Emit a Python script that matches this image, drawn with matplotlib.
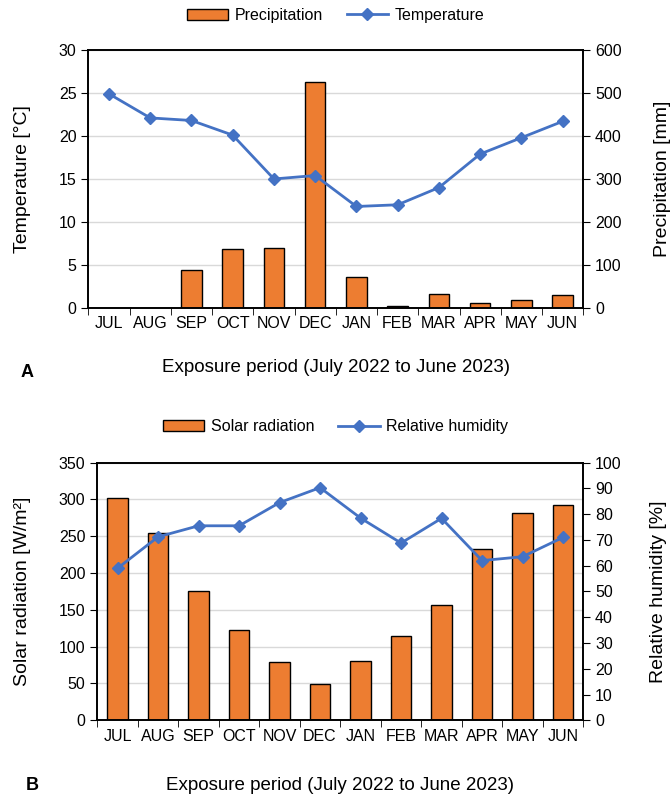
import matplotlib.pyplot as plt
import numpy as np

plt.rcParams['font.family'] = ['Liberation Sans', 'DejaVu Sans']
plt.rcParams['font.size'] = 11.5

months = ['JUL', 'AUG', 'SEP', 'OCT', 'NOV', 'DEC', 'JAN', 'FEB', 'MAR', 'APR', 'MAY', 'JUN']
precipitation = [0, 0, 88, 137, 139, 526, 73, 4, 32, 11, 18, 31]
temperature = [24.9, 22.1, 21.8, 20.1, 15.0, 15.4, 11.8, 12.0, 14.0, 17.9, 19.8, 21.7]
solar = [302, 254, 175, 122, 79, 49, 80, 114, 156, 233, 282, 292]
humidity = [59.0, 71.2, 75.5, 75.5, 84.5, 90.3, 78.5, 68.8, 78.4, 62.0, 63.5, 71.0]

orange = '#ED7D31'
blue = '#4472C4'
grid = '#D9D9D9'
LABEL_FS = 14
XLABEL_FS = 13.5

fig = plt.figure(figsize=(6.71, 8.02), dpi=100)
x = np.arange(len(months))


def style_x(ax):
    ax.set_xlim(-0.5, len(months) - 0.5)
    ax.set_xticks(x)
    ax.set_xticklabels(months)
    ax.set_xticks(np.arange(-0.5, len(months)), minor=True)
    ax.tick_params(axis='x', which='major', length=0, pad=6)
    ax.tick_params(axis='x', which='minor', length=5, direction='out')


# ---- panel A: bars on the right axis, temperature on the left
axA = fig.add_axes([0.1316, 0.616, 0.7377, 0.3217])
axA2 = axA.twinx()
axA.bar(x, precipitation, width=0.5, color=orange, edgecolor='black', linewidth=1, zorder=2, label='Precipitation')
axA.set_ylim(0, 600)
axA.set_yticks(range(0, 601, 100))
axA.yaxis.tick_right()
axA.yaxis.set_label_position('right')
axA.set_ylabel('Precipitation [mm]', fontsize=LABEL_FS, labelpad=23)
axA.grid(axis='y', color=grid, linewidth=1, zorder=0)
axA.set_axisbelow(True)
style_x(axA)
axA.set_xlabel('Exposure period (July 2022 to June 2023)', fontsize=XLABEL_FS, labelpad=20)

axA2.plot(x, temperature, color=blue, marker='D', markersize=6, linewidth=2, label='Temperature')
axA2.set_ylim(0, 30)
axA2.set_yticks(range(0, 31, 5))
axA2.yaxis.tick_left()
axA2.yaxis.set_label_position('left')
axA2.set_ylabel('Temperature [°C]', fontsize=LABEL_FS, labelpad=20)
for a in (axA, axA2):
    a.tick_params(axis='y', length=5, direction='out')
    for s in a.spines.values():
        s.set_linewidth(1.2)

hA = axA.get_legend_handles_labels()
hA2 = axA2.get_legend_handles_labels()
fig.legend(hA[0] + hA2[0], hA[1] + hA2[1], loc='center', bbox_to_anchor=(0.5, 0.981),
           ncol=2, frameon=False, handlelength=2.6, columnspacing=1.5, handletextpad=0.4)
fig.text(0.04, 0.536, 'A', fontsize=13, fontweight='bold', ha='center', va='center')

# ---- panel B: solar radiation bars on the left, humidity on the right
axB = fig.add_axes([0.145, 0.1019, 0.7243, 0.3212])
axB2 = axB.twinx()
axB.bar(x, solar, width=0.5, color=orange, edgecolor='black', linewidth=1, zorder=2, label='Solar radiation')
axB.set_ylim(0, 350)
axB.set_yticks(range(0, 351, 50))
axB.set_ylabel('Solar radiation [W/m²]', fontsize=LABEL_FS, labelpad=20)
axB.grid(axis='y', color=grid, linewidth=1, zorder=0)
axB.set_axisbelow(True)
style_x(axB)
axB.set_xlabel('Exposure period (July 2022 to June 2023)', fontsize=XLABEL_FS, labelpad=24)

axB2.plot(x, humidity, color=blue, marker='D', markersize=6, linewidth=2, label='Relative humidity')
axB2.set_ylim(0, 100)
axB2.set_yticks(range(0, 101, 10))
axB2.set_ylabel('Relative humidity [%]', fontsize=LABEL_FS, labelpad=20)
for a in (axB, axB2):
    a.tick_params(axis='y', length=5, direction='out')
    for s in a.spines.values():
        s.set_linewidth(1.2)

hB = axB.get_legend_handles_labels()
hB2 = axB2.get_legend_handles_labels()
fig.legend(hB[0] + hB2[0], hB[1] + hB2[1], loc='center', bbox_to_anchor=(0.5, 0.468),
           ncol=2, frameon=False, handlelength=2.6, columnspacing=1.5, handletextpad=0.4)
fig.text(0.048, 0.021, 'B', fontsize=13, fontweight='bold', ha='center', va='center')

fig.savefig('out.png', dpi=100)
